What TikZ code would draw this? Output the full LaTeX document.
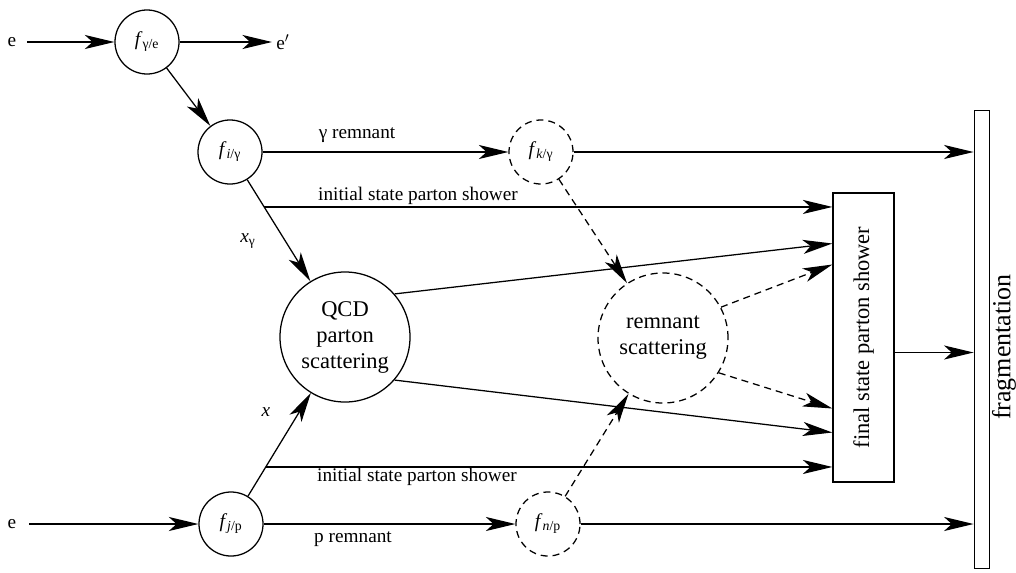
\documentclass[tikz,border=0pt]{standalone}
\usepackage{fontspec}
\setmainfont{Liberation Serif}
\usepackage{xcolor}
\usepackage{tikz}
\usetikzlibrary{calc,arrows.meta}
\tikzset{
  line/.style={line width=0.9pt},
  arr/.style={line, -{Stealth[length=21pt,width=10pt,inset=5.5pt]}},
  dsh/.style={dash pattern=on 5pt off 3.5pt},
  pdf/.style={circle, draw, line width=0.9pt, minimum size=1.6cm, inner sep=0pt, font=\fontsize{14}{16}\selectfont},
  big/.style={circle, draw, line width=0.9pt, minimum size=3.25cm, inner sep=0pt, align=center, font=\fontsize{16}{18.5}\selectfont},
  lbl/.style={inner sep=3pt, font=\fontsize{13.7}{16}\selectfont},
  box/.style={draw, line width=0.9pt, minimum width=1.525cm, minimum height=7.225cm, inner sep=0pt}
}

\begin{document}
\begin{tikzpicture}[x=0.025cm,y=-0.025cm]
\useasboundingbox (0,0) rectangle (1016,572);
% photon side
\node[lbl] (ein) at (12,42) {e};
\node[pdf] (fge) at (147,42) {\textit{f}\textsubscript{γ/e}};
\node[lbl] (eout) at (283,42) {e$'$};
\node[pdf] (fig) at (230,152) {\textit{f}\textsubscript{\textit{i}/γ}};
\node[pdf,dsh] (fkg) at (541,152) {\textit{f}\textsubscript{\textit{k}/γ}};
% proton side
\node[lbl] (pin) at (12,524) {e};
\node[pdf] (fjp) at (231,524) {\textit{f}\textsubscript{\textit{j}/p}};
\node[pdf,dsh] (fnp) at (548,524) {\textit{f}\textsubscript{\textit{n}/p}};
% hard and remnant scattering
\node[big] (qcd) at (345,337) {QCD\\parton\\scattering};
\node[big,dsh] (rem) at (663,338) {remnant\\scattering};
% showers and fragmentation
\node[box] (box) at (863.5,337.5) {};
\node[lbl, rotate=90, font=\fontsize{16}{18}\selectfont] (boxtxt) at (box) {final state parton shower};
\node[draw, line width=0.6pt, minimum width=0.375cm, minimum height=11.45cm, inner sep=0pt] (frag) at (981.5,339) {};
\node[lbl, rotate=90, font=\fontsize{18.5}{20}\selectfont] (fragtxt) at (1004,347) {fragmentation};

\draw[arr, shorten <=4.5pt] (ein) -- (fge);
\draw[arr] (fge) -- (eout);
\draw[arr] (fge) -- (fig);
\draw[arr] (fig) -- (fkg);
\node[lbl] (lgr) at (357,135) {γ remnant};
\draw[arr] (fkg) -- (fkg -| frag.west);

% x_gamma line and upper initial state shower
\draw[arr] (fig) -- (qcd);
\node[lbl] (lxg) at (248,241) {\textit{x}\textsubscript{γ}};
\coordinate (isu) at ($(fig)!0.297!(qcd)$);
\draw[arr] (isu) -- (isu -| box.west);
\node[lbl] (lisu) at (418,196) {initial state parton shower};

% x line and lower initial state shower
\draw[arr] (fjp) -- (qcd);
\node[lbl] (lx) at (266,412) {\textit{x}};
\coordinate (isl) at ($(fjp)!0.305!(qcd)$);
\draw[arr] (isl) -- (isl -| box.west);
\node[lbl] (lisl) at (417,477) {initial state parton shower};

\draw[arr, shorten <=6pt] (pin) -- (fjp);
\draw[arr] (fjp) -- (fnp);
\node[lbl] (lpr) at (353,539) {p remnant};
\draw[arr] (fnp) -- (fnp -| frag.west);

% outgoing partons of hard scattering
\draw[arr] (qcd.41) -- ($(box.west)+(0,-94)$);
\draw[arr] (qcd.-41) -- ($(box.west)+(0,95)$);

% remnant scattering (dashed)
\draw[arr,dsh] (fkg) -- (rem);
\draw[arr,dsh] (fnp) -- (rem);
\draw[arr,dsh] (rem.28) -- ($(box.west)+(0,-73)$);
\draw[arr,dsh] (rem.-32) -- ($(box.west)+(0,71)$);

% into fragmentation
\coordinate (bx) at ($(box.east)+(0,15)$);
\draw[arr] (bx) -- (bx -| frag.west);
\end{tikzpicture}
\end{document}
